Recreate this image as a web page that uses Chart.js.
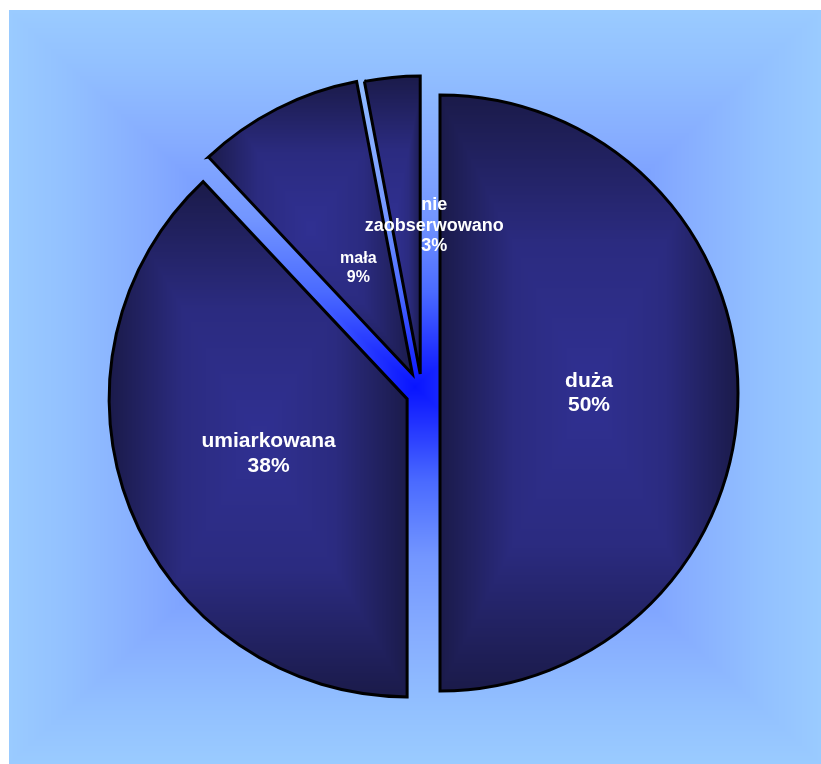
<!DOCTYPE html>
<html>
<head>
<meta charset="UTF-8">
<title>Wykres kołowy</title>
<style>
  body { margin: 0; background: #fff; }
  #wrap { width: 821px; height: 764px; position: relative; }
</style>
<script src="https://cdn.jsdelivr.net/npm/chart.js"></script>
</head>
<body>
<div id="wrap"><canvas id="pie"></canvas></div>
<script>
// dane
const categories = ['duża', 'umiarkowana', 'mała', 'nie zaobserwowano'];
const percents = [50, 38, 9, 3];

// wygląd wycinków i etykiet
const explode = [18, 16, 21, 19];
const labelFontSizes = [21, 21, 16, 18];
const labelRadius = [0.5, 0.5, 0.4, 0.5];
const labelShiftX = [0, 0, 0, 28];
const PIE_RADIUS = 298;

// gradient "od środka" prostokąta, liczony piksel po pikselu
function rectShade(w, h, stops) {
    const c = document.createElement('canvas');
    c.width = w; c.height = h;
    const g = c.getContext('2d');
    const img = g.createImageData(w, h);
    const hw = w / 2, hh = h / 2;
    for (let y = 0; y < h; y++) {
        for (let x = 0; x < w; x++) {
            const t = Math.min(1, Math.max(Math.abs(x + 0.5 - hw) / hw, Math.abs(y + 0.5 - hh) / hh));
            let k = 1;
            while (k < stops.length - 1 && stops[k][0] < t) k++;
            const a = stops[k - 1], b = stops[k];
            const f = (t - a[0]) / (b[0] - a[0] || 1);
            const p = (y * w + x) * 4;
            for (let j = 0; j < 3; j++) img.data[p + j] = Math.round(a[1][j] + (b[1][j] - a[1][j]) * f);
            img.data[p + 3] = 255;
        }
    }
    g.putImageData(img, 0, 0);
    return c;
}

const bgStops = [
    [0, [8, 20, 255]],
    [0.1, [34, 51, 255]],
    [0.25, [74, 106, 255]],
    [0.45, [115, 150, 255]],
    [0.65, [134, 172, 255]],
    [0.85, [146, 192, 255]],
    [1, [154, 203, 255]]
];
const sliceStops = [
    [0, [48, 48, 146]],
    [0.5, [43, 43, 128]],
    [1, [26, 26, 72]]
];

const bgCanvas = rectShade(812, 754, bgStops);

const backgroundPlugin = {
    id: 'tlo',
    beforeDraw(chart) {
        const ctx = chart.ctx;
        ctx.save();
        ctx.fillStyle = '#ffffff';
        ctx.fillRect(0, 0, chart.width, chart.height);
        ctx.drawImage(bgCanvas, 9, 10);
        ctx.restore();
    }
};

function sliceAngles(i) {
    const total = percents.reduce((s, v) => s + v, 0);
    let before = 0;
    for (let k = 0; k < i; k++) before += percents[k];
    const a0 = -Math.PI / 2 + before / total * Math.PI * 2;
    return [a0, a0 + percents[i] / total * Math.PI * 2];
}

// wypełnienie wycinka: gradient na prostokącie opisanym na wycinku
const patternCache = {};
function sliceFill(context) {
    const chart = context.chart;
    const area = chart.chartArea;
    const i = context.dataIndex;
    if (!area || i === undefined) return '#262670';
    const [a0, a1] = sliceAngles(i);
    const half = (a0 + a1) / 2;
    const cx = (area.left + area.right) / 2 + Math.cos(half) * explode[i];
    const cy = (area.top + area.bottom) / 2 + Math.sin(half) * explode[i];
    const key = i + ':' + cx.toFixed(1) + ':' + cy.toFixed(1);
    if (patternCache[key]) return patternCache[key];
    let minX = cx, maxX = cx, minY = cy, maxY = cy;
    for (let s = 0; s <= 200; s++) {
        const a = a0 + (a1 - a0) * s / 200;
        const px = cx + Math.cos(a) * PIE_RADIUS, py = cy + Math.sin(a) * PIE_RADIUS;
        minX = Math.min(minX, px); maxX = Math.max(maxX, px);
        minY = Math.min(minY, py); maxY = Math.max(maxY, py);
    }
    const x0 = Math.floor(minX) - 2, y0 = Math.floor(minY) - 2;
    const w = Math.ceil(maxX) - x0 + 3, h = Math.ceil(maxY) - y0 + 3;
    const pat = chart.ctx.createPattern(rectShade(w, h, sliceStops), 'no-repeat');
    pat.setTransform(new DOMMatrix().translate(x0, y0));
    patternCache[key] = pat;
    return pat;
}

// wysunięcie wycinków od środka koła
const explodePlugin = {
    id: 'wysuniecie',
    afterDatasetsUpdate(chart) {
        const area = chart.chartArea;
        const cx = (area.left + area.right) / 2;
        const cy = (area.top + area.bottom) / 2;
        chart.getDatasetMeta(0).data.forEach((arc, i) => {
            const half = (arc.startAngle + arc.endAngle) / 2;
            arc.x = cx + Math.cos(half) * explode[i];
            arc.y = cy + Math.sin(half) * explode[i];
        });
    }
};

// białe etykiety wewnątrz wycinków
const labelPlugin = {
    id: 'etykiety',
    afterDatasetsDraw(chart) {
        const ctx = chart.ctx;
        const meta = chart.getDatasetMeta(0);
        ctx.save();
        ctx.fillStyle = '#ffffff';
        ctx.textAlign = 'center';
        ctx.textBaseline = 'middle';
        meta.data.forEach((arc, i) => {
            const half = (arc.startAngle + arc.endAngle) / 2;
            const shift = arc.outerRadius * labelRadius[i];
            const x = arc.x + Math.cos(half) * shift + labelShiftX[i];
            const y = arc.y + Math.sin(half) * shift;
            const size = labelFontSizes[i];
            const lines = categories[i].split(' ').concat(percents[i] + '%');
            const lh = size * 1.15;
            ctx.font = 'bold ' + size + 'px "Liberation Sans", Arial, sans-serif';
            lines.forEach((line, j) => {
                ctx.fillText(line, x, y + (j - (lines.length - 1) / 2) * lh);
            });
        });
        ctx.restore();
    }
};

new Chart(document.getElementById('pie'), {
    type: 'pie',
    data: {
        labels: categories,
        datasets: [{
            data: percents,
            radius: PIE_RADIUS,
            backgroundColor: sliceFill,
            borderColor: '#000000',
            borderWidth: 3,
            borderJoinStyle: 'miter'
        }]
    },
    options: {
        responsive: true,
        maintainAspectRatio: false,
        animation: false,
        devicePixelRatio: 1,
        layout: { padding: { left: 23, right: 0, top: 22, bottom: 0 } },
        plugins: {
            legend: { display: false },
            tooltip: { enabled: false }
        },
        events: []
    },
    plugins: [backgroundPlugin, explodePlugin, labelPlugin]
});
</script>
</body>
</html>
